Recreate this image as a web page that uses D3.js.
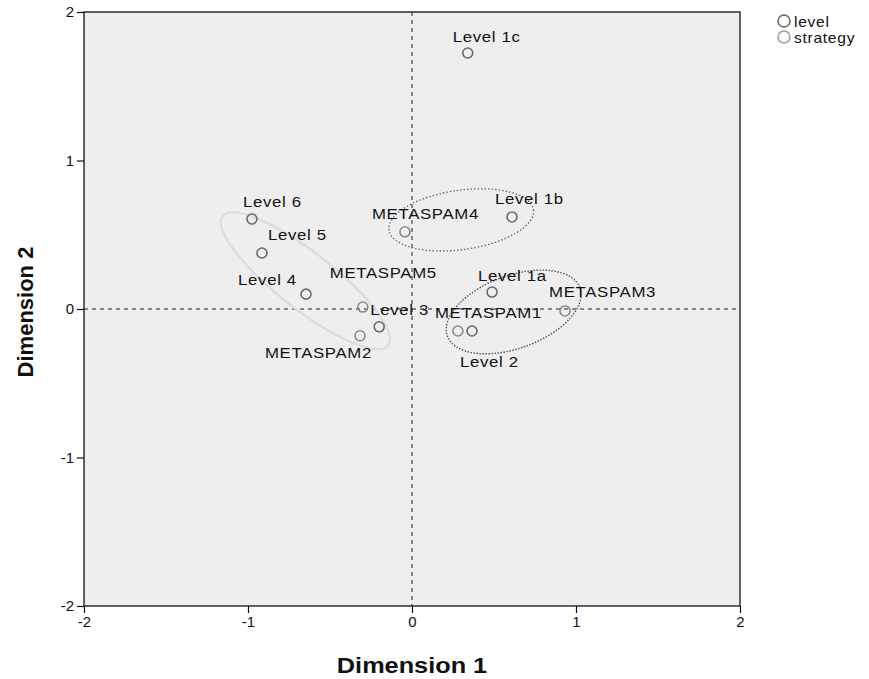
<!DOCTYPE html>
<html>
<head>
<meta charset="utf-8">
<script src="https://cdn.jsdelivr.net/npm/d3@7"></script>
<style>
  body { margin: 0; background: #fff; }
  svg { display: block; font-family: "Liberation Sans", Arial, sans-serif; }
</style>
</head>
<body>
<svg id="chart" width="869" height="679"></svg>
<script>
// Object points (levels) and category points (strategies) in the two-dimensional solution
const levelNames = ["Level 1a", "Level 1b", "Level 1c", "Level 2", "Level 3", "Level 4", "Level 5", "Level 6"];
const levelDim1 = [0.488, 0.61, 0.34, 0.366, -0.20, -0.646, -0.915, -0.976];
const levelDim2 = [0.114, 0.62, 1.724, -0.148, -0.12, 0.10, 0.377, 0.606];

const strategyNames = ["METASPAM1", "METASPAM2", "METASPAM3", "METASPAM4", "METASPAM5"];
const strategyDim1 = [0.28, -0.317, 0.933, -0.043, -0.30];
const strategyDim2 = [-0.148, -0.18, -0.013, 0.52, 0.013];

// label offsets (px) relative to each point: [dx, dy, anchor]
const levelLabelPos = [[-14, -11, "start"], [-17, -13, "start"], [-15, -11, "start"], [-12, 36, "start"], [-9, -12, "start"], [-68, -9, "start"], [6, -13, "start"], [-9, -12, "start"]];
const strategyLabelPos = [[-23, -13, "start"], [12, 22, "end"], [-16, -14, "start"], [-33, -13, "start"], [-33, -29, "start"]];

const xTicks = [-2, -1, 0, 1, 2];
const yTicks = [-2, -1, 0, 1, 2];

// grouping ellipses: centre, radii in data units, tilt in degrees, stroke
const groupCx = [0.30, 0.62, -0.65];
const groupCy = [0.60, -0.02, 0.19];
const groupRx = [0.445, 0.43, 0.64];
const groupRy = [0.20, 0.245, 0.19];
const groupTilt = [-8, -20, 38];
const groupStroke = ["#666", "#555", "#dcdcdc"];
const groupDash = ["1.5,2", "1.5,1.5", null];
const groupWidth = [1.3, 1.4, 2.2];

const svg = d3.select("#chart");
const x = d3.scaleLinear().domain([-2, 2]).range([84, 740]);
const y = d3.scaleLinear().domain([-2, 2]).range([606, 12]);

// horizontal text is drawn slightly wide
const STRETCH = 1.12;
function wideText(px, py, txt, anchor, size) {
  return svg.append("text")
    .attr("transform", `translate(${px},${py}) scale(${STRETCH},1)`)
    .attr("text-anchor", anchor || "start")
    .style("font-size", size + "px")
    .style("letter-spacing", "0.6px")
    .attr("fill", "#111").text(txt);
}

// plot background
svg.append("rect")
  .attr("x", x(-2)).attr("y", y(2))
  .attr("width", x(2) - x(-2)).attr("height", y(-2) - y(2))
  .attr("fill", "#eeeeee");

// zero reference lines
svg.append("line")
  .attr("x1", x(0)).attr("x2", x(0)).attr("y1", y(2)).attr("y2", y(-2))
  .attr("stroke", "#222").attr("stroke-width", 1).attr("stroke-dasharray", "4,4");
svg.append("line")
  .attr("x1", x(-2)).attr("x2", x(2)).attr("y1", y(0)).attr("y2", y(0))
  .attr("stroke", "#222").attr("stroke-width", 1).attr("stroke-dasharray", "4,4");

// grouping ellipses
const pxPerX = x(1) - x(0), pxPerY = y(0) - y(1);
groupCx.forEach((cx, i) => {
  const e = svg.append("ellipse")
    .attr("cx", 0).attr("cy", 0)
    .attr("rx", groupRx[i] * pxPerX).attr("ry", groupRy[i] * pxPerY)
    .attr("transform", `translate(${x(cx)},${y(groupCy[i])}) rotate(${groupTilt[i]})`)
    .attr("fill", "none").attr("stroke", groupStroke[i]).attr("stroke-width", groupWidth[i]);
  if (groupDash[i]) e.attr("stroke-dasharray", groupDash[i]);
});

// frame
svg.append("rect")
  .attr("x", x(-2)).attr("y", y(2))
  .attr("width", x(2) - x(-2)).attr("height", y(-2) - y(2))
  .attr("fill", "none").attr("stroke", "#111").attr("stroke-width", 1.3);

// axes
const xAxis = svg.append("g").attr("transform", `translate(0,${y(-2)})`)
  .call(d3.axisBottom(x).tickValues(xTicks).tickFormat(d => String(d)).tickSize(7).tickPadding(3));
const yAxis = svg.append("g").attr("transform", `translate(${x(-2)},0)`)
  .call(d3.axisLeft(y).tickValues(yTicks).tickFormat(d => String(d)).tickSize(7).tickPadding(3));
[xAxis, yAxis].forEach(g => {
  g.select(".domain").remove();
  g.selectAll(".tick line").attr("stroke", "#111").attr("stroke-width", 1.2);
  g.selectAll(".tick text").attr("fill", "#111").style("font-size", "15px")
    .style("font-family", "'Liberation Sans', Arial, sans-serif");
});

// axis titles
svg.append("text")
  .attr("transform", `translate(${x(0)},673) scale(1.15,1)`)
  .attr("text-anchor", "middle")
  .style("font-size", "22px").style("font-weight", "bold").attr("fill", "#111").text("Dimension 1");
svg.append("text").attr("transform", `translate(33,${y(0) + 3}) rotate(-90)`).attr("text-anchor", "middle")
  .style("font-size", "22px").style("font-weight", "bold").attr("fill", "#111").text("Dimension 2");

// points
function drawSet(names, d1, d2, pos, stroke) {
  names.forEach((n, i) => {
    svg.append("circle").attr("cx", x(d1[i])).attr("cy", y(d2[i])).attr("r", 5)
      .attr("fill", "none").attr("stroke", stroke).attr("stroke-width", 1.6);
    wideText(x(d1[i]) + pos[i][0], y(d2[i]) + pos[i][1], n, pos[i][2], 15);
  });
}
drawSet(levelNames, levelDim1, levelDim2, levelLabelPos, "#6a6a6a");
drawSet(strategyNames, strategyDim1, strategyDim2, strategyLabelPos, "#8a8a8a");

// legend
const legendItems = ["level", "strategy"];
const legendStroke = ["#6a6a6a", "#9a9a9a"];
legendItems.forEach((t, i) => {
  svg.append("circle").attr("cx", 784).attr("cy", 21 + i * 16).attr("r", 6)
    .attr("fill", "none").attr("stroke", legendStroke[i]).attr("stroke-width", 1.5);
  wideText(794, 27 + i * 16, t, "start", 14);
});
</script>
</body>
</html>
